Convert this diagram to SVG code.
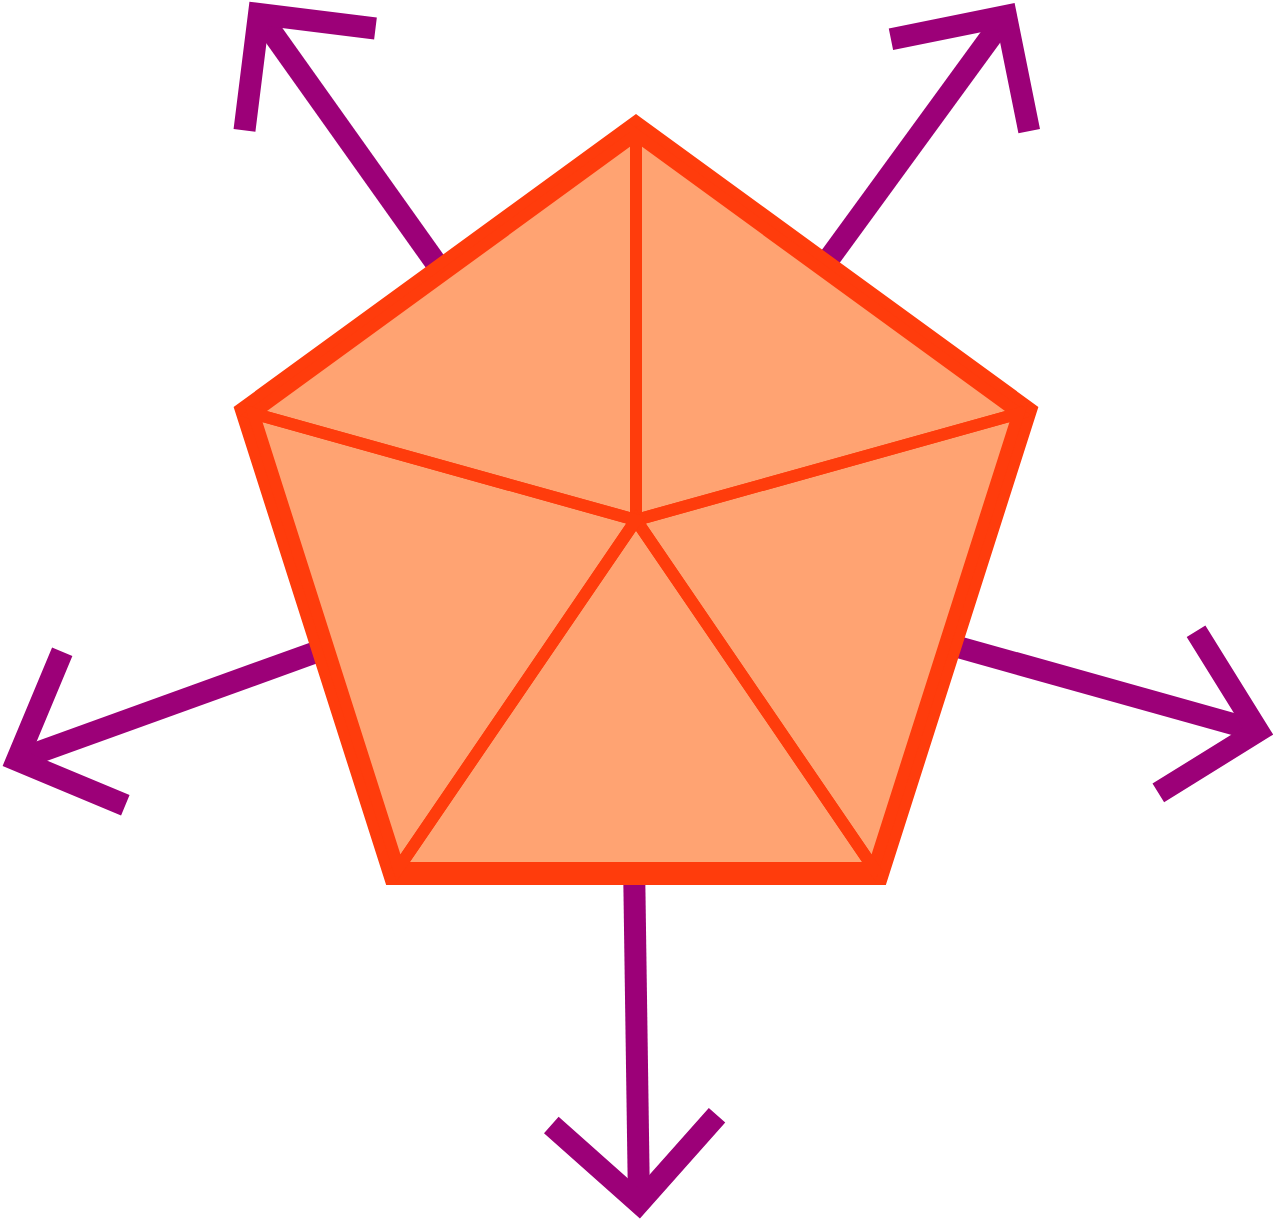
<svg xmlns="http://www.w3.org/2000/svg" width="1273" height="1219" viewBox="0 0 1273 1219">
  <style>
    .arrow { stroke: #9c0078; stroke-width: 22; fill: none; stroke-linecap: butt; stroke-linejoin: miter; }
    .outline { fill: #ffa372; stroke: #ff3c0c; stroke-width: 16; stroke-linejoin: miter; stroke-miterlimit: 10; }
    .tri { fill: none; stroke: #ff3c0c; stroke-width: 12; stroke-linejoin: miter; stroke-miterlimit: 10; }
  </style>
  <defs>
    <marker id="head" markerUnits="userSpaceOnUse" orient="auto" refX="0" refY="0" markerWidth="10" markerHeight="10" overflow="visible">
      <path d="M -83,-83 L 0,0 L -83,83" transform="rotate(-2.5)" fill="none" stroke="#9c0078" stroke-width="22" stroke-linejoin="miter" stroke-miterlimit="10"/>
    </marker>
  </defs>
  <rect width="1273" height="1219" fill="#ffffff"/>
  <g id="connectors">
    <line class="arrow" x1="453" y1="287" x2="259" y2="14" marker-end="url(#head)"/>
    <line class="arrow" x1="815" y1="278" x2="1006" y2="16" marker-end="url(#head)"/>
    <line class="arrow" x1="940" y1="642" x2="1258" y2="731" marker-end="url(#head)"/>
    <line class="arrow" x1="634" y1="860" x2="639" y2="1203" marker-end="url(#head)"/>
    <line class="arrow" x1="333" y1="646" x2="17" y2="760" marker-end="url(#head)"/>
  </g>
  <g id="pentagon">
    <polygon class="outline" points="636,124 1029,410 880,877 392,877 243,410"/>
    <polygon class="tri" points="636,520 636,135 253.5,413.5"/>
    <polygon class="tri" points="636,520 636,135 1018.5,413.5"/>
    <polygon class="tri" points="636,520 1018.5,413.5 873.5,868"/>
    <polygon class="tri" points="636,520 873.5,868 398.5,868"/>
    <polygon class="tri" points="636,520 398.5,868 253.5,413.5"/>
  </g>
</svg>
